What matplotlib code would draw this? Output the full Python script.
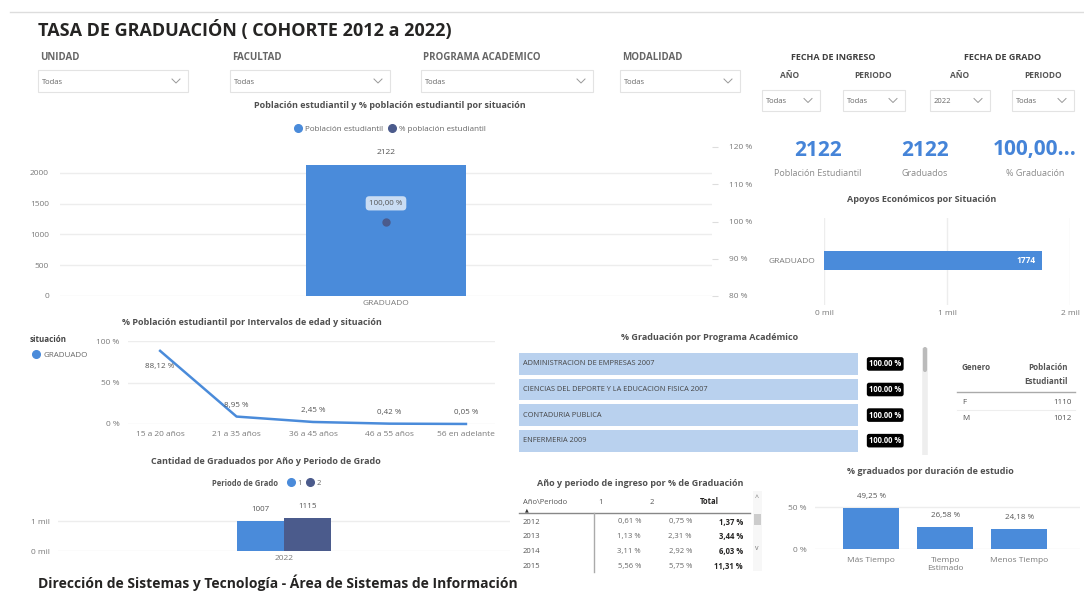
import matplotlib
matplotlib.use("Agg")
import matplotlib.pyplot as plt
from matplotlib.patches import Rectangle
from matplotlib.lines import Line2D

W, H = 1084, 592
plt.rcParams['font.family'] = ['Open Sans', 'DejaVu Sans']

BLUE = '#4A8BDA'
DARK = '#4B5B8C'
LIGHT = '#B9D1EE'
GRAY = '#7a7a7a'
TITLE = '#505050'
GRID = '#ededed'

# ---- data ----
slicers = ['UNIDAD', 'FACULTAD', 'PROGRAMA ACADEMICO', 'MODALIDAD']
slicer_values = ['Todas', 'Todas', 'Todas', 'Todas']
fecha_values = ['Todas', 'Todas', '2022', 'Todas']

situacion = ['GRADUADO']
poblacion = [2122]
pct_poblacion = [100.0]

kpi_values = ['2122', '2122', '100,00...']
kpi_labels = ['Población Estudiantil', 'Graduados', '% Graduación']

apoyos = [1774]

edad_cats = ['15 a 20 años', '21 a 35 años', '36 a 45 años', '46 a 55 años', '56 en adelante']
edad_pct = [88.12, 8.95, 2.45, 0.42, 0.05]

anio_grado = ['2022']
periodo1 = [1007]
periodo2 = [1115]

programas = ['ADMINISTRACION DE EMPRESAS 2007',
             'CIENCIAS DEL DEPORTE Y LA EDUCACION FISICA 2007',
             'CONTADURIA PUBLICA', 'ENFERMERIA 2009']
programa_pct = [100.0, 100.0, 100.0, 100.0]

genero = ['F', 'M']
genero_pob = [1110, 1012]

ingreso_anios = ['2012', '2013', '2014', '2015']
ingreso_p1 = [0.61, 1.13, 3.11, 5.56]
ingreso_p2 = [0.75, 2.31, 2.92, 5.75]
ingreso_total = [1.37, 3.44, 6.03, 11.31]

duracion = ['Más Tiempo', 'Tiempo\nEstimado', 'Menos Tiempo']
duracion_pct = [49.25, 26.58, 24.18]


def pct(v):
    return f'{v:.2f}'.replace('.', ',') + ' %'


fig = plt.figure(figsize=(W / 100, H / 100), dpi=100)


def ax_px(x, y, w, h):
    return fig.add_axes([x / W, 1 - (y + h) / H, w / W, h / H])


def txt(x, y, s, **kw):
    kw.setdefault('va', 'center')
    return fig.text(x / W, 1 - y / H, s, **kw)


def line_px(xs, ys, **kw):
    fig.add_artist(Line2D([x / W for x in xs], [1 - y / H for y in ys],
                          transform=fig.transFigure, **kw))


def box(x, y, w, h, **kw):
    fig.add_artist(Rectangle((x / W, 1 - (y + h) / H), w / W, h / H,
                             transform=fig.transFigure, **kw))


def dropdown(x, y, w, h, value):
    box(x, y, w, h, fill=False, ec='#e3e3e3', lw=0.8)
    txt(x + 4, y + h / 2 + 1, value, fontsize=5.5, color='#666666')
    cx, cy = x + w - 12, y + h / 2
    line_px([cx - 4, cx, cx + 4], [cy - 2, cy + 2, cy - 2], color='#999999', lw=0.7)


def clean(ax):
    for s in ax.spines.values():
        s.set_visible(False)
    ax.tick_params(length=0, labelsize=6, labelcolor=GRAY)


def dot_legend(x, y, items, fs=6):
    handles = [Line2D([], [], marker='o', ls='', color=c, markersize=5.5) for c, _ in items]
    fig.legend(handles, [t for _, t in items], loc='center', ncol=len(items),
               bbox_to_anchor=(x / W, 1 - y / H), frameon=False, fontsize=fs,
               handletextpad=0.35, columnspacing=0.6, handlelength=1.0,
               labelcolor='#666666', borderaxespad=0)


# ---- header ----
line_px([10, W], [12, 12], color='#dddddd', lw=1)
txt(38, 30, 'TASA DE GRADUACIÓN ( COHORTE 2012 a 2022)', fontsize=13, fontweight='bold',
    color='#252423', family=['Liberation Sans Narrow', 'Open Sans'])

slicer_x = [40, 232, 423, 622]
slicer_w = [150, 160, 172, 120]
for sx, sw, name, val in zip(slicer_x, slicer_w, slicers, slicer_values):
    txt(sx, 58, name, fontsize=7, fontweight='bold', color='#666666',
        family=['Liberation Sans Narrow', 'Open Sans'])
    dropdown(sx - 2, 70, sw, 22, val)

txt(833, 57, 'FECHA DE INGRESO', fontsize=6.5, fontweight='bold', color='#404040', ha='center')
txt(1003, 57, 'FECHA DE GRADO', fontsize=6.5, fontweight='bold', color='#404040', ha='center')
for cx, name in zip([790, 873, 960, 1043], ['AÑO', 'PERIODO', 'AÑO', 'PERIODO']):
    txt(cx, 75, name, fontsize=6, fontweight='bold', color='#555555', ha='center')
for dx, dw, val in zip([762, 843, 930, 1012], [58, 62, 60, 62], fecha_values):
    dropdown(dx, 90, dw, 21, val)

# ---- chart 1: poblacion por situacion ----
txt(390, 106, 'Población estudiantil y % población estudiantil por situación',
    fontsize=6.5, fontweight='bold', color=TITLE, ha='center')
dot_legend(390, 129, [(BLUE, 'Población estudiantil'), (DARK, '% población estudiantil')], fs=5.8)
ax1 = ax_px(60, 147, 652, 149)
ax1.bar(situacion, poblacion, width=0.246, color=BLUE, zorder=2)
ax1.set_xlim(-0.5, 0.5)
ax1.set_ylim(0, 2000 * 149 / 123)
ax1.set_yticks([0, 500, 1000, 1500, 2000])
ax1.yaxis.grid(True, color=GRID, lw=1)
ax1.set_axisbelow(True)
clean(ax1)
ax1.tick_params(axis='y', pad=8)
ax1.tick_params(axis='x', pad=3)
for i, v in enumerate(poblacion):
    ax1.annotate(str(v), (i, v), xytext=(0, 8), textcoords='offset points',
                 ha='center', fontsize=6, color='#555555')
ax1b = ax1.twinx()
ax1b.plot(range(len(situacion)), pct_poblacion, 'o', color=DARK, markersize=5, zorder=3)
ax1b.set_ylim(80, 120)
ax1b.set_yticks([80, 90, 100, 110, 120])
ax1b.set_yticklabels([f'{t} %' for t in [80, 90, 100, 110, 120]])
for s in ax1b.spines.values():
    s.set_visible(False)
ax1b.tick_params(axis='y', length=4, color='#dddddd', labelsize=6, labelcolor=GRAY, pad=8)
for i, v in enumerate(pct_poblacion):
    ax1b.annotate(pct(v), (i, v), xytext=(0, 12), textcoords='offset points',
                  ha='center', fontsize=5.8, color='#555555',
                  bbox=dict(boxstyle='round,pad=0.45', fc='#C9DCF3', ec='none'))

# ---- KPI cards ----
for cx, v, lab in zip([818, 925, 1035], kpi_values, kpi_labels):
    txt(cx, 150, v, fontsize=15, fontweight='bold', color='#4584D8', ha='center')
    txt(cx, 173, lab, fontsize=6.5, color='#8a8a8a', ha='center')

# ---- chart 2: apoyos economicos ----
txt(922, 200, 'Apoyos Económicos por Situación', fontsize=6.5, fontweight='bold',
    color=TITLE, ha='center')
ax2 = ax_px(824, 218, 246, 87)
ax2.barh(situacion, apoyos, height=0.22, color=BLUE, zorder=2)
ax2.set_xlim(0, 2000)
ax2.set_ylim(-0.51, 0.49)
ax2.set_xticks([0, 1000, 2000])
ax2.set_xticklabels(['0 mil', '1 mil', '2 mil'])
ax2.xaxis.grid(True, color=GRID, lw=1)
ax2.set_axisbelow(True)
clean(ax2)
ax2.tick_params(axis='y', pad=6)
for i, v in enumerate(apoyos):
    ax2.annotate(str(v), (v, i), xytext=(-5, 0), textcoords='offset points',
                 ha='right', va='center', fontsize=6, color='white', fontweight='bold')

# ---- chart 3: edad ----
txt(252, 322, '% Población estudiantil por Intervalos de edad y situación', fontsize=6.5,
    fontweight='bold', color=TITLE, ha='center')
txt(30, 340, 'situación', fontsize=5.8, fontweight='bold', color='#444444')
dot_legend(60, 355, [(BLUE, 'GRADUADO')], fs=5.8)
ax3 = ax_px(128, 341, 367, 83)
ax3.plot(range(len(edad_cats)), edad_pct, color=BLUE, lw=1.8, clip_on=False)
ax3.set_xlim(-0.42, 4.38)
ax3.set_ylim(0, 100)
ax3.set_yticks([0, 50, 100])
ax3.set_yticklabels(['0 %', '50 %', '100 %'])
ax3.set_xticks(range(len(edad_cats)))
ax3.set_xticklabels(edad_cats)
ax3.yaxis.grid(True, color=GRID, lw=1)
clean(ax3)
ax3.tick_params(axis='y', pad=6)
ax3.tick_params(axis='x', pad=5)
for i, v in enumerate(edad_pct):
    off = -11 if i == 0 else 8
    ax3.annotate(pct(v), (i, v), xytext=(0, off), textcoords='offset points',
                 ha='center', va='center', fontsize=5.8, color='#555555')

# ---- chart 4: graduados por año y periodo ----
txt(266, 461, 'Cantidad de Graduados por Año y Periodo de Grado', fontsize=6.5,
    fontweight='bold', color=TITLE, ha='center')
txt(245, 483, 'Periodo de Grado', fontsize=5.5, fontweight='bold', color='#555555', ha='center')
dot_legend(304, 483, [(BLUE, '1'), (DARK, '2')], fs=5.5)
ax4 = ax_px(58, 500, 452, 51)
xs = range(len(anio_grado))
bw = 0.104
ax4.bar([x - bw / 2 for x in xs], periodo1, width=bw, color=BLUE, zorder=2)
ax4.bar([x + bw / 2 for x in xs], periodo2, width=bw, color=DARK, zorder=2)
ax4.set_xlim(-0.5, 0.5)
ax4.set_ylim(0, 1700)
ax4.set_yticks([0, 1000])
ax4.set_yticklabels(['0 mil', '1 mil'])
ax4.set_xticks(list(xs))
ax4.set_xticklabels(anio_grado)
ax4.yaxis.grid(True, color=GRID, lw=1)
ax4.set_axisbelow(True)
clean(ax4)
ax4.tick_params(axis='y', pad=6)
ax4.tick_params(axis='x', pad=3)
for x, a, b in zip(xs, periodo1, periodo2):
    ax4.annotate(str(a), (x - bw / 2, a), xytext=(0, 7), textcoords='offset points',
                 ha='center', fontsize=5.8, color='#555555')
    ax4.annotate(str(b), (x + bw / 2, b), xytext=(0, 7), textcoords='offset points',
                 ha='center', fontsize=5.8, color='#555555')

# footer
txt(38, 591, 'Dirección de Sistemas y Tecnología - Área de Sistemas de Información', fontsize=10,
    fontweight='bold', color='#252423', va='bottom')

# ---- chart 5: programa academico ----
txt(710, 338, '% Graduación por Programa Académico', fontsize=6.5, fontweight='bold',
    color=TITLE, ha='center')
ax5 = ax_px(519, 350, 339, 106)
ys = range(len(programas))
ax5.barh(list(ys), [100] * len(programas), height=0.856, color=LIGHT)
ax5.set_xlim(0, 100)
ax5.set_ylim(3.6, -0.545)
ax5.axis('off')
for y, name, v in zip(ys, programas, programa_pct):
    ax5.text(1.2, y, name, va='center', fontsize=5.3, color='#444444')
    ax5.annotate(f'{v:.2f} %', (100, y), xytext=(8, 0), textcoords='offset points',
                 va='center', fontsize=5.5, color='white', fontweight='bold', clip_on=False,
                 bbox=dict(boxstyle='round,pad=0.3', fc='black', ec='none'))
line_px([925, 925], [348, 455], color='#eeeeee', lw=4, solid_capstyle='butt')
line_px([925, 925], [349, 370], color='#bbbbbb', lw=3, solid_capstyle='round')

# gender table
txt(962, 368, 'Genero', fontsize=5.8, color='#555555', fontweight='bold')
txt(1068, 368, 'Población', fontsize=5.8, color='#555555', fontweight='bold', ha='right')
txt(1068, 381, 'Estudiantil', fontsize=5.8, color='#555555', fontweight='bold', ha='right')
line_px([957, 1075], [392, 392], color='#aaaaaa', lw=1)
for i, (g, n) in enumerate(zip(genero, genero_pob)):
    yy = 402 + i * 16
    txt(962, yy, g, fontsize=5.8, color='#555555')
    txt(1072, yy, str(n), fontsize=5.8, color='#555555', ha='right')
line_px([957, 1075], [410, 410], color='#eeeeee', lw=0.8)

# ---- matrix: año y periodo de ingreso ----
txt(640, 483, 'Año y periodo de ingreso por % de Graduación', fontsize=6.5, fontweight='bold',
    color=TITLE, ha='center')
txt(523, 502, 'Año\\Periodo', fontsize=5.5, color='#555555')
txt(527, 510, '▲', fontsize=3.5, color='#333333', ha='center')
txt(598, 502, '1', fontsize=5.5, color='#555555')
txt(650, 502, '2', fontsize=5.5, color='#555555')
txt(700, 502, 'Total', fontsize=5.5, color='#252423', fontweight='bold')
line_px([519, 750], [513, 513], color='#888888', lw=1)
line_px([594, 594], [513, 572], color='#aaaaaa', lw=1)
for i, (a, p1, p2, t) in enumerate(zip(ingreso_anios, ingreso_p1, ingreso_p2, ingreso_total)):
    yy = 522 + i * 14.7
    txt(523, yy, a, fontsize=5.5, color='#555555')
    txt(641, yy, pct(p1), fontsize=5.5, color='#666666', ha='right')
    txt(692, yy, pct(p2), fontsize=5.5, color='#666666', ha='right')
    txt(743, yy, pct(t), fontsize=5.5, color='#252423', ha='right', fontweight='bold')
box(753, 491, 9, 80, fc='#f7f7f7', ec='none')
box(754, 514, 7, 11, fc='#cccccc', ec='none')
txt(757, 498, '^', fontsize=5, color='#777777', ha='center')
txt(757, 549, 'v', fontsize=5, color='#777777', ha='center')

# ---- chart 6: duracion de estudio ----
txt(930, 472, '% graduados por duración de estudio', fontsize=6.5, fontweight='bold',
    color=TITLE, ha='center')
ax6 = ax_px(815, 495, 265, 54)
ax6.bar(range(len(duracion)), duracion_pct, width=0.757, color=BLUE, zorder=2)
ax6.set_xlim(-0.757, 2.82)
ax6.set_ylim(0, 54 * 50 / 42)
ax6.set_yticks([0, 50])
ax6.set_yticklabels(['0 %', '50 %'])
ax6.set_xticks(range(len(duracion)))
ax6.set_xticklabels(duracion)
ax6.yaxis.grid(True, color=GRID, lw=1)
ax6.set_axisbelow(True)
clean(ax6)
ax6.tick_params(axis='y', pad=6)
ax6.tick_params(axis='x', pad=6)
for i, v in enumerate(duracion_pct):
    ax6.annotate(pct(v), (i, v), xytext=(0, 7), textcoords='offset points',
                 ha='center', fontsize=5.8, color='#555555')

fig.savefig('out.png', dpi=100)
